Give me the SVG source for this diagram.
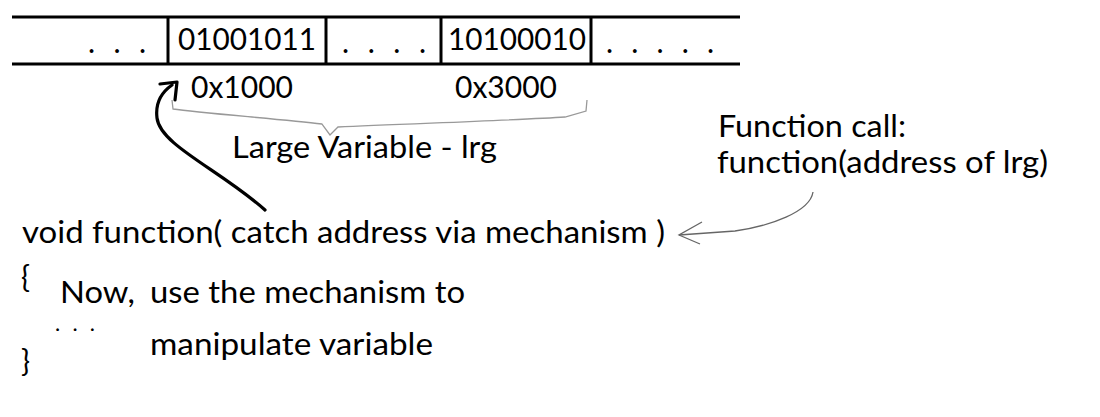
<svg xmlns="http://www.w3.org/2000/svg" width="1100" height="417" viewBox="0 0 1100 417">
<style>
  text { font-family: Lato, "Liberation Sans", sans-serif; font-size: 30px; fill: #000; }
  .dots { font-size: 22px; }
  .mem { stroke: #000; stroke-width: 3; fill: none; }
  .thin { stroke: #666; stroke-width: 1.3; fill: none; }
  .brace { stroke: #999; stroke-width: 1.3; fill: none; }
  .thick { stroke: #000; stroke-width: 3.2; fill: none; stroke-linecap: round; stroke-linejoin: round; }
</style>
<rect width="1100" height="417" fill="#fff"/>
<g id="memory">
  <line class="mem" x1="12" y1="17" x2="740" y2="17"/>
  <line class="mem" x1="12" y1="64" x2="740" y2="64"/>
  <line class="mem" x1="168" y1="17" x2="168" y2="64"/>
  <line class="mem" x1="326" y1="17" x2="326" y2="64"/>
  <line class="mem" x1="441" y1="17" x2="441" y2="64"/>
  <line class="mem" x1="591" y1="17" x2="591" y2="64"/>
  <text x="88" y="53" textLength="58" lengthAdjust="spacing">. . .</text>
  <text x="178" y="50" textLength="138" lengthAdjust="spacingAndGlyphs">01001011</text>
  <text x="342" y="53" textLength="84" lengthAdjust="spacing">. . . .</text>
  <text x="448" y="50" textLength="138" lengthAdjust="spacingAndGlyphs">10100010</text>
  <text x="606" y="53" textLength="108" lengthAdjust="spacing">. . . . .</text>
</g>
<g id="addr1"><text x="191" y="98" textLength="102" lengthAdjust="spacingAndGlyphs">0x1000</text></g>
<g id="addr2"><text x="455" y="98" textLength="102" lengthAdjust="spacingAndGlyphs">0x3000</text></g>
<g id="lrg"><text x="232" y="158" textLength="265" lengthAdjust="spacingAndGlyphs">Large Variable - lrg</text></g>
<g id="call">
  <text x="718" y="137" textLength="188" lengthAdjust="spacingAndGlyphs">Function call:</text>
  <text x="717" y="173" textLength="331" lengthAdjust="spacingAndGlyphs">function(address of lrg)</text>
</g>
<g id="func">
  <text x="22" y="243" textLength="643" lengthAdjust="spacingAndGlyphs">void function( catch address via mechanism )</text>
  <text x="21" y="288">{</text>
  <text x="60" y="303" textLength="75" lengthAdjust="spacingAndGlyphs">Now,</text>
  <text x="150" y="303" textLength="315" lengthAdjust="spacingAndGlyphs">use the mechanism to</text>
  <text class="dots" x="55" y="331" textLength="40" lengthAdjust="spacing">. . .</text>
  <text x="150" y="355" textLength="283" lengthAdjust="spacingAndGlyphs">manipulate variable</text>
  <text x="21" y="372">}</text>
</g>
<g id="connectors">
  <path class="brace" d="M172,100 L173,109 C200,113 280,119 322,124 L330,135 L338,127 C400,124 520,120 565,117 L586,111 L587,100"/>
  <path class="thick" d="M265,210 C220,170 160,145 157,118 C155,102 162,92 172,85"/>
  <polyline class="thick" points="160,84 177,82 175,100"/>
  <path class="thin" d="M813,192 C810,212 770,226 735,231 L679,235"/>
  <polyline class="thin" points="702,222 679,235 700,244"/>
</g>
</svg>
